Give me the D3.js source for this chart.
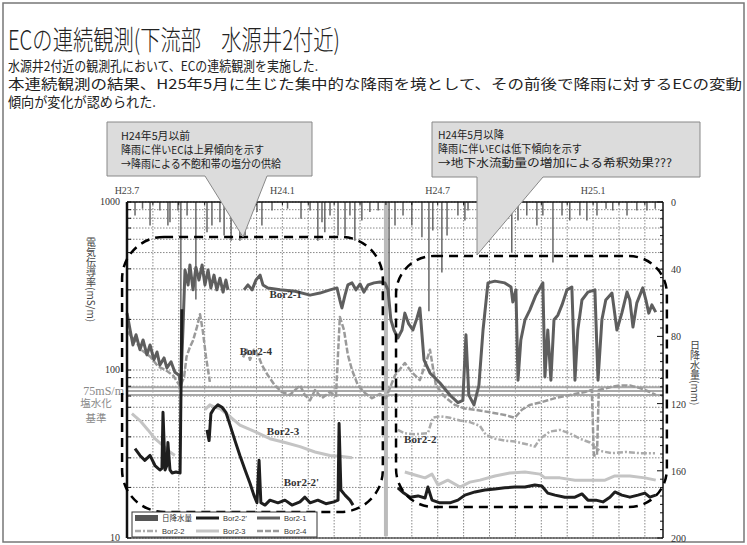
<!DOCTYPE html>
<html><head><meta charset="utf-8">
<script src="https://cdn.jsdelivr.net/npm/d3@7"></script>
<style>body{margin:0;background:#fff}svg{display:block}</style>
</head><body><svg id="c" width="747" height="545"></svg>
<script>
// ---------- DATA ----------
// time in months since H23.7 (July 2011)
const timeTicks = [0, 6, 12, 18];
const timeTickLabels = ["H23.7", "H24.1", "H24.7", "H25.1"];
const ecTicks = [10, 100, 1000];
const rainTicks = [0, 40, 80, 120, 160, 200];
const titleText = "ECの連続観測(下流部　水源井2付近)";
const bodyLines = [
  "水源井2付近の観測孔において、ECの連続観測を実施した.",
  "本連続観測の結果、H25年5月に生じた集中的な降雨を境として、その前後で降雨に対するECの変動",
  "傾向が変化が認められた."
];
const calloutLeft = ["H24年5月以前", "降雨に伴いECは上昇傾向を示す", "→降雨による不飽和帯の塩分の供給"];
const calloutRight = ["H24年5月以降", "降雨に伴いECは低下傾向を示す", "→地下水流動量の増加による希釈効果???"];

const rainMonth = [0.31,0.6,0.89,1.27,1.58,1.66,1.97,2.08,2.32,2.66,3.09,3.28,3.59,3.75,4.02,4.36,4.56,5.02,5.21,5.60,6.2,6.72,7.07,7.37,7.53,7.64,7.84,8.15,8.42,8.61,8.80,9.07,9.38,9.7,10.00,10.12,10.35,10.66,11.00,11.39,11.66,11.81,12.16,12.36,12.78,13.05,13.17,13.6,14.02,14.4,14.86,15.10,15.44,15.83,16.06,16.45,16.80,17.10,17.49,17.76,18.15,18.5,18.76,19.31,19.69,20.08,20.4];
const rainMM    = [8,4,14,5,14,12,5,118,8,58,18,14,12,20,23,23,20,6,14,5,4,10,5,23,12,18,8,20,20,8,23,11,6,5,199,58,14,8,14,21,65,17,42,20,8,11,5,4,5,6,30,11,8,14,8,36,8,11,8,11,8,4,5,8,5,5,4];

// [month, EC mS/m]; null = gap
const bor21 = [[0,218],[0.12,173],[0.23,141],[0.35,162],[0.5,132],[0.62,151],[0.77,123],[0.89,141],[1.04,115],[1.16,128],[1.27,107],[1.43,118],[1.54,103],[1.7,112],[1.85,97],[2.01,93],[2.08,81],[2.16,173],[2.24,394],[2.36,321],[2.43,422],[2.55,300],[2.66,408],[2.78,343],[2.9,422],[3.01,321],[3.13,394],[3.24,308],[3.36,367],[3.47,300],[3.59,352],[3.71,291],[3.82,343],[3.9,300],[4.2,null],
 [4.52,300],[4.67,321],[4.83,300],[4.98,343],[5.14,367],[5.25,321],[5.44,308],[5.91,300],[6.49,294],[7.07,279],[7.45,287],[7.84,300],[8.11,308],[8.22,261],[8.3,234],[8.42,279],[8.53,321],[8.69,330],[8.84,300],[9.0,325],[9.15,291],[9.31,321],[9.54,330],[9.77,334],[9.96,330],[10.08,300],[10.19,199],[10.31,173],[10.46,155],[10.62,173],[10.73,218],[10.88,188],[11.04,173],[11.2,204],[11.31,234],[11.47,115],[11.7,96],[12.08,84],[12.47,71],[12.78,64],[12.97,66],[13.09,162],[13.2,71],[13.4,62],[13.59,81],[13.75,173],[13.94,330],[14.21,338],[14.59,330],[14.83,312],[14.9,254],[15.02,300],[15.1,87],[15.21,151],[15.37,199],[15.56,228],[15.79,279],[16.06,330],[16.14,91],[16.25,173],[16.37,87],[16.49,199],[16.64,212],[16.8,244],[16.99,300],[17.18,312],[17.3,87],[17.41,173],[17.57,261],[17.8,291],[18.07,300],[18.19,87],[18.34,199],[18.49,261],[18.73,287],[18.92,173],[19.11,218],[19.31,291],[19.42,261],[19.54,180],[19.69,251],[19.92,308],[20.04,261],[20.15,218],[20.27,244],[20.42,221]];

const bor22 = [[10.46,44],[10.73,42],[11.12,41.5],[11.62,42],[11.81,52],[12.08,53],[12.47,52],[12.86,50],[13.24,49],[13.63,46.5],[13.86,41],[14.21,39],[14.59,38],[14.98,37.5],[15.48,36],[15.75,35],[15.95,39],[16.33,43],[16.72,44],[17.1,42],[17.49,39],[17.88,37],[18.26,33],[18.73,32],[19.26,32.5],[19.81,32],[20.39,32]];

const bor22p = [[0.31,34],[0.5,31],[0.69,29],[0.89,31],[1.08,27],[1.27,25.4],[1.35,26],[1.39,56],[1.47,25.4],[1.54,27],[1.58,37],[1.66,25.4],[1.74,24.4],[1.89,24.7],[2.05,24.4],[2.12,230],[2.16,null],
 [3.09,44],[3.17,38],[3.24,55],[3.36,59],[3.51,62],[3.67,60],[3.82,56],[3.98,47],[4.17,38],[4.36,31],[4.56,25.4],[4.75,21.2],[4.9,18],[5.02,16.2],[5.1,29],[5.17,16.2],[5.33,15.7],[5.52,16.8],[5.83,16.2],[6.1,16.8],[6.37,15.7],[6.68,16.4],[6.87,17.5],[7.07,16.2],[7.37,16.8],[7.68,16],[7.99,16.4],[8.15,16.8],[8.19,48],[8.26,19.3],[8.42,18],[8.61,16.8],[8.73,15.7],[9.0,null],
 [10.46,19.9],[10.69,18.5],[10.93,17.5],[11.24,17.8],[11.51,17.3],[11.62,20.1],[11.78,16.8],[12.08,16.2],[12.47,16.2],[12.78,16.8],[13.05,18],[13.44,18.8],[13.82,19.3],[14.21,19.6],[14.59,19.9],[14.98,20.1],[15.37,20.1],[15.75,20.7],[16.02,20.4],[16.25,18.5],[16.53,18],[16.91,17.5],[17.3,17.5],[17.57,18.3],[17.8,16.8],[18.11,16.8],[18.38,16.4],[18.65,17.5],[18.84,18.8],[19.11,18],[19.42,17.5],[19.73,18],[20.0,18.5],[20.19,17.5],[20.42,18]];

const bor23 = [[0.19,55],[0.5,50],[0.81,44],[1.08,39],[1.35,36],[1.66,32.5],[1.85,31],[2.0,null],
 [3.01,58],[3.2,62],[3.4,60],[3.59,59],[3.9,54],[4.36,47],[4.94,43],[5.52,39],[6.1,37],[6.68,35],[7.26,32.5],[7.84,31],[8.22,30.7],[8.69,30],[9.0,null],
 [10.73,24.7],[11.12,23.7],[11.51,22.8],[11.78,24],[12.01,20.7],[12.39,22.1],[12.86,20.1],[13.24,21.5],[13.63,22.1],[14.21,23.4],[14.79,24.4],[15.37,24.7],[15.95,24],[16.14,22.8],[16.72,22.8],[17.3,22.1],[17.88,22.1],[18.46,22.1],[18.84,23.4],[19.42,23.4],[20.0,22.8],[20.42,22.1]];

const bor24 = [[0,170],[0.3,150],[0.6,130],[0.9,120],[1.2,105],[1.5,100],[1.8,92],[2.05,80],[2.2,90],[2.3,120],[2.43,137],[2.55,150],[2.7,180],[2.82,215],[2.93,170],[3.05,120],[3.2,85],[3.4,null],
 [4.48,119],[4.63,132],[4.75,115],[4.9,132],[5.06,123],[5.21,107],[5.44,93],[5.71,81],[5.98,74],[6.29,71],[6.68,81],[6.87,71],[7.07,66],[7.26,76],[7.53,68],[7.84,74],[8.07,70],[8.22,207],[8.38,173],[8.53,123],[8.69,100],[8.92,81],[9.19,73],[9.46,68],[9.77,72],[10.0,68],[10.35,93],[10.73,110],[11.0,97],[11.31,87],[11.58,115],[11.7,132],[11.93,81],[12.28,69],[12.66,62],[13.05,59],[13.44,58],[14.02,56],[14.59,54],[14.98,52],[15.25,58],[15.56,62],[15.95,64],[16.25,66],[16.53,68],[16.91,70],[17.3,72],[17.68,74],[17.95,76],[18.03,31],[18.15,31],[18.22,76],[18.65,79],[19.03,81],[19.42,81],[19.81,78],[20.19,74],[20.42,71]];

// ---------- DRAW ----------
const svg = d3.select("#c");
const JP = "'Noto Sans CJK JP','Noto Sans',sans-serif";
const SERIF = "'Liberation Serif','DejaVu Serif',serif";
const x = d3.scaleLinear().domain([0, 20.7]).range([127, 663]);
const y = d3.scaleLog().domain([10, 1000]).range([538, 202]);
const yr = d3.scaleLinear().domain([0, 200]).range([202, 538]);

svg.append("rect").attr("x", 3).attr("y", 3).attr("width", 741).attr("height", 539)
  .attr("fill", "#fff").attr("stroke", "#777").attr("stroke-width", 1.5);

// title & body
svg.append("text").attr("x", 8).attr("y", 50).text(titleText)
  .attr("font-family", JP).attr("font-size", 27).attr("font-weight", 300).attr("fill", "#222")
  .attr("textLength", 332).attr("lengthAdjust", "spacingAndGlyphs");
const bodyY = [71, 89, 107], bodyW = [310, 734, 148];
bodyLines.forEach((t, i) => svg.append("text").attr("x", 8).attr("y", bodyY[i]).text(t)
  .attr("font-family", JP).attr("font-size", 13.5).attr("fill", "#222")
  .attr("textLength", bodyW[i]).attr("lengthAdjust", "spacingAndGlyphs"));

// grid
const g = svg.append("g");
const minor = [];
[10, 100].forEach(d => { for (let k = 1; k <= 9; k++) minor.push(d * k); });
minor.push(1000);
g.selectAll(".hg").data(minor).enter().append("line")
  .attr("x1", x(0)).attr("x2", x(20.7)).attr("y1", d => y(d)).attr("y2", d => y(d))
  .attr("stroke", "#888").attr("stroke-width", 1).attr("stroke-dasharray", "1.5,1.5");
g.selectAll(".vg").data(d3.range(1, 21)).enter().append("line")
  .attr("x1", d => x(d)).attr("x2", d => x(d)).attr("y1", y(1000)).attr("y2", y(10))
  .attr("stroke", "#888").attr("stroke-width", 1).attr("stroke-dasharray", "1.5,1.5");

// 75 mS/m band
[79, 75, 71].forEach(v => g.append("line").attr("x1", x(0)).attr("x2", x(20.7))
  .attr("y1", y(v)).attr("y2", y(v)).attr("stroke", "#a8a8a8").attr("stroke-width", 2));
svg.append("text").attr("x", 124).attr("y", y(75) + 4).attr("text-anchor", "end").text("75mS/m")
  .attr("font-family", SERIF).attr("font-size", 12).attr("fill", "#888");
svg.append("text").attr("x", 96).attr("y", 407).attr("text-anchor", "middle").text("塩水化")
  .attr("font-family", JP).attr("font-size", 10.5).attr("fill", "#888");
svg.append("text").attr("x", 96).attr("y", 422).attr("text-anchor", "middle").text("基準")
  .attr("font-family", JP).attr("font-size", 10.5).attr("fill", "#888");

// rainfall bars
svg.append("g").selectAll("line").data(rainMonth).enter().append("line")
  .attr("x1", d => x(d)).attr("x2", d => x(d)).attr("y1", yr(0)).attr("y2", (d, i) => yr(rainMM[i]))
  .attr("stroke", (d, i) => rainMM[i] > 150 ? "#bbb" : "#666").attr("stroke-width", (d, i) => rainMM[i] > 150 ? 4 : 1.5);

// series
const line = d3.line().defined(d => d[1] != null).x(d => x(d[0])).y(d => y(d[1]));
const series = [
  {data: bor23, color: "#c4c4c4", w: 3, dash: null},
  {data: bor22, color: "#ababab", w: 2.5, dash: "6,2,2,2"},
  {data: bor24, color: "#9a9a9a", w: 2.5, dash: "6,2"},
  {data: bor21, color: "#5e5e5e", w: 3, dash: null},
  {data: bor22p, color: "#1e1e1e", w: 3, dash: null}
];
series.forEach(s => svg.append("path").attr("d", line(s.data)).attr("fill", "none")
  .attr("stroke", s.color).attr("stroke-width", s.w).attr("stroke-dasharray", s.dash)
  .attr("stroke-linejoin", "round"));

// axes
const ax = svg.append("g");
ax.append("line").attr("x1", x(0)).attr("x2", x(0)).attr("y1", y(1000)).attr("y2", y(10)).attr("stroke", "#111").attr("stroke-width", 2.5);
ax.append("line").attr("x1", x(20.7)).attr("x2", x(20.7)).attr("y1", yr(0)).attr("y2", yr(200)).attr("stroke", "#111").attr("stroke-width", 1.5);
ax.append("line").attr("x1", x(0)).attr("x2", x(20.7)).attr("y1", y(1000)).attr("y2", y(1000)).attr("stroke", "#111").attr("stroke-width", 1.5);
ax.append("line").attr("x1", x(0)).attr("x2", x(20.7)).attr("y1", y(10)).attr("y2", y(10)).attr("stroke", "#111").attr("stroke-width", 1);
ax.selectAll(".lt").data(minor).enter().append("line")
  .attr("x1", x(0)).attr("x2", x(0) + 4).attr("y1", d => y(d)).attr("y2", d => y(d)).attr("stroke", "#111");
ax.selectAll(".ltl").data(ecTicks).enter().append("text")
  .attr("x", 120).attr("y", d => y(d) + 3).attr("text-anchor", "end").text(d => d)
  .attr("font-family", SERIF).attr("font-size", 10).attr("fill", "#333");
ax.selectAll(".rt").data(d3.range(0, 201, 5)).enter().append("line")
  .attr("x1", x(20.7)).attr("x2", d => x(20.7) - (d % 40 === 0 ? 6 : 3)).attr("y1", d => yr(d)).attr("y2", d => yr(d)).attr("stroke", "#111");
ax.selectAll(".rtl").data(rainTicks).enter().append("text")
  .attr("x", 671).attr("y", d => yr(d) + 4).text(d => d)
  .attr("font-family", SERIF).attr("font-size", 10).attr("fill", "#333");
ax.selectAll(".tt").data(d3.range(0, 21)).enter().append("line")
  .attr("x1", d => x(d)).attr("x2", d => x(d)).attr("y1", y(1000)).attr("y2", y(1000) + 3).attr("stroke", "#111");
ax.selectAll(".ttl").data(timeTicks).enter().append("text")
  .attr("x", d => x(d)).attr("y", 194).attr("text-anchor", "middle").text((d, i) => timeTickLabels[i])
  .attr("font-family", SERIF).attr("font-size", 10).attr("fill", "#444");

// axis titles
svg.append("text").attr("x", 91).attr("y", 237).text("電気伝導率(mS/m)")
  .attr("font-family", JP).attr("font-size", 10).attr("fill", "#444")
  .style("writing-mode", "vertical-rl");
svg.append("text").attr("x", 695).attr("y", 340).text("日降水量(mm)")
  .attr("font-family", JP).attr("font-size", 10).attr("fill", "#444")
  .style("writing-mode", "vertical-rl");

// series labels
const lab = (t, m, v) => svg.append("text").attr("x", x(m)).attr("y", y(v)).text(t)
  .attr("font-family", SERIF).attr("font-weight", "bold").attr("font-size", 11).attr("fill", "#333");
lab("Bor2-1", 5.5, 270); lab("Bor2-4", 4.35, 122); lab("Bor2-3", 5.4, 41);
lab("Bor2-2'", 6.05, 20.5); lab("Bor2-2", 10.7, 37);

// dashed rounded boxes (annotation)
const box = (m0, m1, v0, v1, r) => svg.append("rect")
  .attr("x", x(m0)).attr("y", y(v1)).attr("width", x(m1) - x(m0)).attr("height", y(v0) - y(v1))
  .attr("rx", r).attr("fill", "none").attr("stroke", "#000").attr("stroke-width", 2.5).attr("stroke-dasharray", "9,6");
box(-0.19, 9.88, 14.3, 620, 42);
box(10.39, 20.85, 15.3, 477, 38);

// legend
const lg = svg.append("g");
lg.append("rect").attr("x", 132).attr("y", 512).attr("width", 185).attr("height", 25).attr("fill", "#fff").attr("stroke", "#333");
const legItems = [
  {t: "日降水量", c: "#555", w: 6, dash: null, col: 0, row: 0},
  {t: "Bor2-2'", c: "#1e1e1e", w: 3, dash: null, col: 1, row: 0},
  {t: "Bor2-1", c: "#5e5e5e", w: 3, dash: null, col: 2, row: 0},
  {t: "Bor2-2", c: "#ababab", w: 2.5, dash: "6,2,2,2", col: 0, row: 1},
  {t: "Bor2-3", c: "#c4c4c4", w: 3, dash: null, col: 1, row: 1},
  {t: "Bor2-4", c: "#9a9a9a", w: 2.5, dash: "6,2", col: 2, row: 1}
];
legItems.forEach(it => {
  const x0 = 135 + it.col * 61, yy = 518 + it.row * 13;
  lg.append("line").attr("x1", x0).attr("x2", x0 + 23).attr("y1", yy).attr("y2", yy)
    .attr("stroke", it.c).attr("stroke-width", it.w).attr("stroke-dasharray", it.dash);
  lg.append("text").attr("x", x0 + 27).attr("y", yy + 3).text(it.t)
    .attr("font-family", it.col === 0 && it.row === 0 ? JP : "'Liberation Sans',sans-serif")
    .attr("font-size", 7.5).attr("fill", "#333");
});

// callouts
const callout = (pathD, lines, tx, ty, widths) => {
  svg.append("path").attr("d", pathD).attr("fill", "#dcdcdc").attr("stroke", "#888").attr("stroke-width", 1);
  lines.forEach((t, i) => svg.append("text").attr("x", tx).attr("y", ty + i * 14).text(t)
    .attr("font-family", JP).attr("font-size", 11).attr("fill", "#222")
    .attr("textLength", widths[i]).attr("lengthAdjust", "spacingAndGlyphs"));
};
callout("M107,122H312V176H267L243,237L205,176H107Z", calloutLeft, 121, 140, [69, 143, 160]);
callout("M432,122H700V177H543L477,255L477,177H432Z", calloutRight, 438, 139, [66, 144, 234]);
</script></body></html>
